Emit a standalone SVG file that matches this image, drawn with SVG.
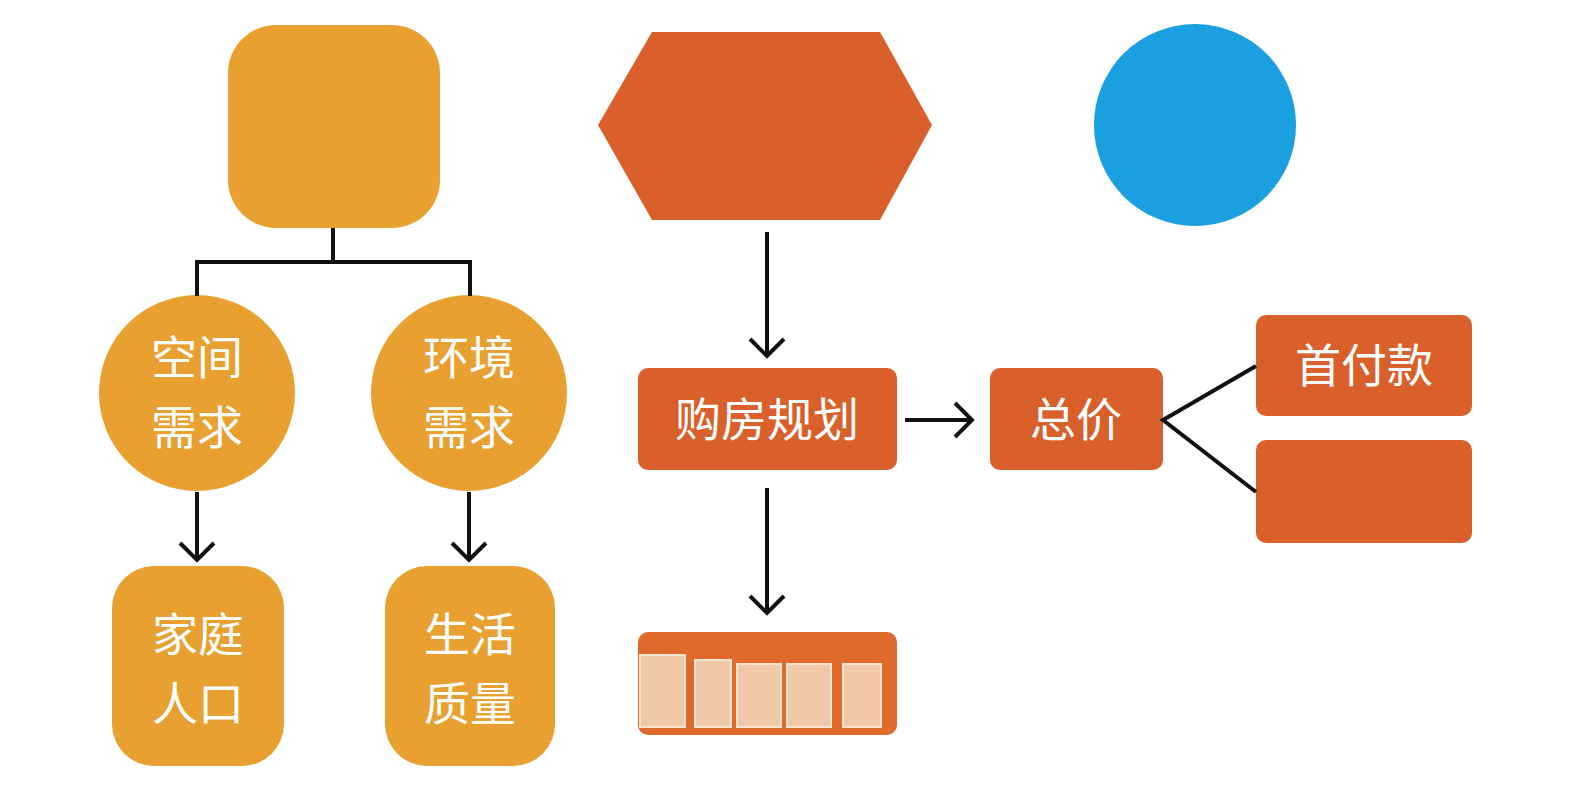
<svg xmlns="http://www.w3.org/2000/svg" width="1574" height="788" viewBox="0 0 1574 788">
<style>
.y{fill:#E8A030}.o{fill:#D95F2B}
.t{font-family:"Noto Sans CJK SC",sans-serif;fill:#fff;font-size:46px;text-anchor:middle}
.c{stroke:#111;stroke-width:4;fill:none}
.p{fill:#F2C9A8;stroke:#F7E3D2;stroke-width:2}
</style>
<rect width="1574" height="788" fill="#fff"/>
<g id="n-square"><rect class="y" x="228" y="25" width="212" height="203" rx="48"/></g>
<g id="n-hex"><polygon class="o" points="598,125 652,32 880,32 932,125 880,220 652,220"/></g>
<g id="n-circle"><circle cx="1195" cy="125" r="101" fill="#1AA0E0"/></g>
<g id="n-space"><circle class="y" cx="197" cy="393" r="98"/><text class="t" x="197" y="374">空间</text><text class="t" x="197" y="444">需求</text></g>
<g id="n-env"><circle class="y" cx="469" cy="393" r="98"/><text class="t" x="469" y="374">环境</text><text class="t" x="469" y="444">需求</text></g>
<g id="n-family"><rect class="y" x="112" y="566" width="172" height="200" rx="42"/><text class="t" x="198" y="651">家庭</text><text class="t" x="198" y="720">人口</text></g>
<g id="n-life"><rect class="y" x="385" y="566" width="170" height="200" rx="42"/><text class="t" x="470" y="651">生活</text><text class="t" x="470" y="720">质量</text></g>
<g id="n-plan"><rect class="o" x="638" y="368" width="259" height="102" rx="10"/><text class="t" x="767" y="436">购房规划</text></g>
<g id="n-total"><rect class="o" x="990" y="368" width="173" height="102" rx="10"/><text class="t" x="1076" y="436">总价</text></g>
<g id="n-down"><rect class="o" x="1256" y="315" width="216" height="101" rx="10"/><text class="t" x="1364" y="382">首付款</text></g>
<g id="n-blank"><rect class="o" x="1256" y="440" width="216" height="103" rx="10"/></g>
<g id="n-panels">
<rect x="638" y="632" width="259" height="103" rx="10" fill="#E06A2C"/>
<rect x="640" y="655" width="45" height="72" class="p"/>
<rect x="695" y="660" width="36" height="67" class="p"/>
<rect x="737" y="664" width="44" height="63" class="p"/>
<rect x="787" y="664" width="44" height="63" class="p"/>
<rect x="843" y="664" width="38" height="63" class="p"/>
</g>
<g id="connectors">
<path class="c" d="M333,228V262M197,296V262H470V296"/>
<path class="c" d="M197,492V560M180,543L197,560L214,543"/>
<path class="c" d="M469,492V560M452,543L469,560L486,543"/>
<path class="c" d="M767,232V356M750,339L767,356L784,339"/>
<path class="c" d="M767,488V613M750,596L767,613L784,596"/>
<path class="c" d="M905,420H972M955,403L972,420L955,437"/>
<path class="c" d="M1256,366L1163,420L1256,492"/>
</g>
</svg>
